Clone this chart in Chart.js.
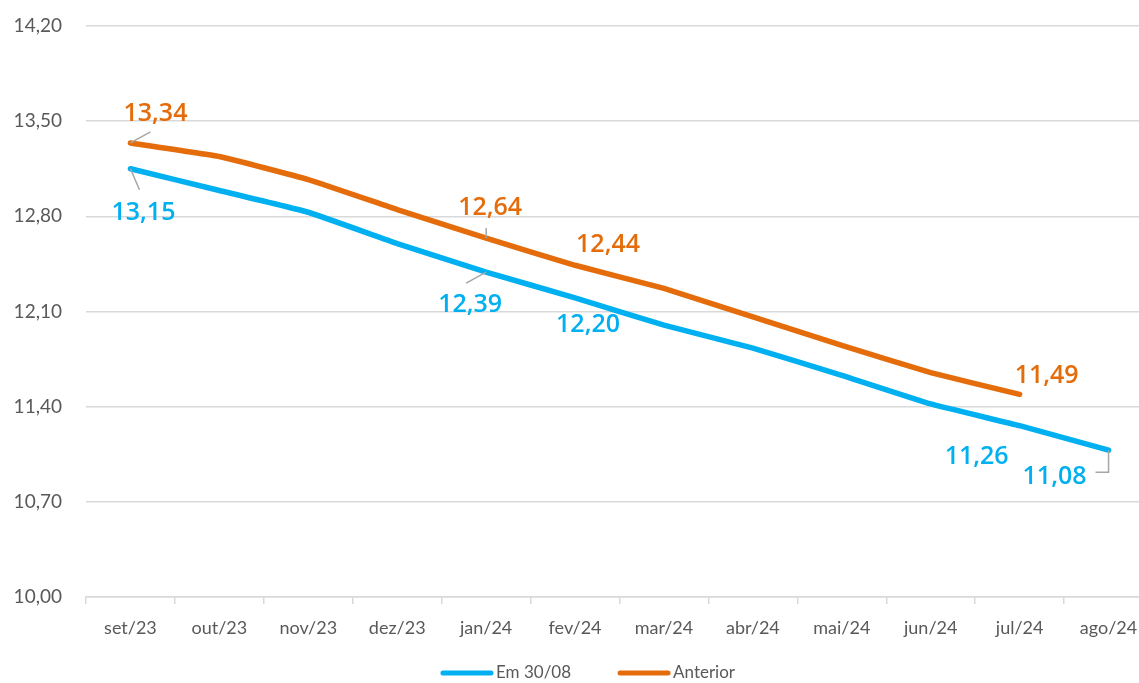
<!DOCTYPE html>
<html>
<head>
<meta charset="utf-8">
<script src="https://cdn.jsdelivr.net/npm/chart.js@4/dist/chart.umd.min.js"></script>
<style>
  html, body { margin: 0; padding: 0; background: #fff; overflow: hidden; }
  #wrap { width: 1139px; height: 683px; overflow: hidden; }
</style>
</head>
<body>
<div id="wrap"><canvas id="grafico" width="1176" height="683"></canvas></div>
<script>
// dados
const categorias = ['set/23', 'out/23', 'nov/23', 'dez/23', 'jan/24', 'fev/24', 'mar/24', 'abr/24', 'mai/24', 'jun/24', 'jul/24', 'ago/24'];
const em3008 = [13.15, 12.99, 12.83, 12.60, 12.39, 12.20, 12.00, 11.83, 11.63, 11.42, 11.26, 11.08];
const anterior = [13.34, 13.24, 13.07, 12.85, 12.64, 12.44, 12.27, 12.06, 11.85, 11.65, 11.49, null];
const ticksY = [10.00, 10.70, 11.40, 12.10, 12.80, 13.50, 14.20];

const AZUL = '#00B0F0';
const LARANJA = '#E46C0A';

// rótulos de dados (serie, indice, deslocamento do texto, linha guia)
const rotulos = [
  { ds: 1, i: 0, dx: 25, dy: -29, guia: [[0, 0], [20, -11]] },
  { ds: 0, i: 0, dx: 13, dy: 44, guia: [[0, 0], [9, 21]] },
  { ds: 1, i: 4, dx: 4, dy: -30, guia: [[0, 0], [0, -10]] },
  { ds: 0, i: 4, dx: -16, dy: 33, guia: [[0, 0], [-20, 11]] },
  { ds: 1, i: 5, dx: 33, dy: -20 },
  { ds: 0, i: 5, dx: 13, dy: 27 },
  { ds: 1, i: 10, dx: 27, dy: -19 },
  { ds: 0, i: 10, dx: -43, dy: 31 },
  { ds: 0, i: 11, dx: -54, dy: 27, guia: [[0, 0], [0, 22], [-13, 22]] }
];

function fmt(v) {
  return v.toFixed(2).replace('.', ',');
}

const pluginRotulos = {
  id: 'rotulos',
  afterDatasetsDraw(chart) {
    const ctx = chart.ctx;
    ctx.save();
    rotulos.forEach(function (r) {
      const pt = chart.getDatasetMeta(r.ds).data[r.i];
      const v = chart.data.datasets[r.ds].data[r.i];
      if (r.guia) {
        ctx.strokeStyle = '#A6A6A6';
        ctx.lineWidth = 1.5;
        ctx.beginPath();
        r.guia.forEach(function (p, k) {
          if (k === 0) ctx.moveTo(pt.x + p[0], pt.y + p[1]);
          else ctx.lineTo(pt.x + p[0], pt.y + p[1]);
        });
        ctx.stroke();
      }
      ctx.fillStyle = chart.data.datasets[r.ds].borderColor;
      ctx.font = '600 25px "Open Sans"';
      ctx.textAlign = 'center';
      ctx.textBaseline = 'middle';
      ctx.fillText(fmt(v), pt.x + r.dx, pt.y + r.dy);
    });
    ctx.restore();
  }
};

// legenda desenhada a mao, centrada no canvas
const pluginLegenda = {
  id: 'legenda',
  afterDraw(chart) {
    const ctx = chart.ctx;
    ctx.save();
    ctx.font = '17px Lato';
    ctx.textBaseline = 'middle';
    const caixa = 52, gapTxt = 3, gapItem = 47, y = 673;
    const itens = chart.data.datasets.map(function (d) {
      return { txt: d.label, cor: d.borderColor, w: ctx.measureText(d.label).width };
    });
    let total = 0;
    itens.forEach(function (it, k) {
      total += caixa + gapTxt + it.w + (k > 0 ? gapItem : 0);
    });
    let x = chart.width / 2 - total / 2;
    itens.forEach(function (it) {
      ctx.strokeStyle = it.cor;
      ctx.lineWidth = 5;
      ctx.lineCap = 'round';
      ctx.beginPath();
      ctx.moveTo(x + 2, y);
      ctx.lineTo(x + caixa - 2, y);
      ctx.stroke();
      ctx.fillStyle = '#595959';
      ctx.fillText(it.txt, x + caixa + gapTxt, y);
      x += caixa + gapTxt + it.w + gapItem;
    });
    ctx.restore();
  }
};

const ctx = document.getElementById('grafico').getContext('2d');
const grafico = new Chart(ctx, {
  type: 'line',
  data: {
    labels: categorias,
    datasets: [
      {
        label: 'Em 30/08',
        data: em3008,
        borderColor: AZUL,
        backgroundColor: AZUL,
        borderWidth: 5.5,
        pointRadius: 0,
        tension: 0.1,
        borderCapStyle: 'round'
      },
      {
        label: 'Anterior',
        data: anterior,
        borderColor: LARANJA,
        backgroundColor: LARANJA,
        borderWidth: 5.5,
        pointRadius: 0,
        tension: 0.1,
        borderCapStyle: 'round'
      }
    ]
  },
  options: {
    responsive: false,
    animation: false,
    layout: {
      padding: { top: 26, right: 23, left: 0, bottom: 40 }
    },
    scales: {
      x: {
        offset: true,
        grid: {
          offset: true,
          drawOnChartArea: false,
          color: '#D9D9D9',
          lineWidth: 1.5,
          tickLength: 7
        },
        border: { color: '#D9D9D9', width: 1.5 },
        ticks: {
          color: '#595959',
          font: { family: 'Lato', size: 18 },
          maxRotation: 0,
          autoSkip: false,
          padding: 13
        },
        afterFit: function (scale) { scale.height = 46; }
      },
      y: {
        min: 10,
        max: 14.2,
        grid: {
          color: '#D9D9D9',
          lineWidth: 1.5,
          drawTicks: false
        },
        border: { display: false },
        ticks: {
          color: '#595959',
          font: { family: 'Lato', size: 19 },
          padding: 24,
          callback: function (v) { return fmt(v); }
        },
        afterBuildTicks: function (scale) {
          scale.ticks = ticksY.map(function (v) { return { value: v }; });
        },
        afterFit: function (scale) {
          scale.width = 86;
          scale.paddingTop = 0;
          scale.paddingBottom = 0;
        }
      }
    },
    plugins: {
      legend: { display: false },
      tooltip: { enabled: false }
    }
  },
  plugins: [pluginRotulos, pluginLegenda]
});
</script>
</body>
</html>
